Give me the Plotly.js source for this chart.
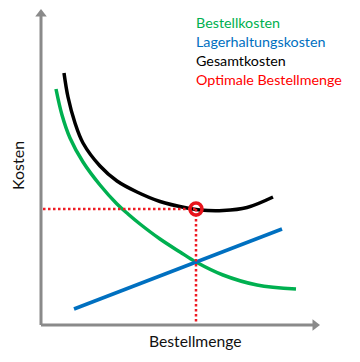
<!DOCTYPE html>
<html>
<head>
<meta charset="utf-8">
<script src="https://cdn.plot.ly/plotly-3.0.1.min.js"></script>
<style>html,body{margin:0;padding:0;background:#fff;}#chart{width:360px;height:362px;}</style>
</head>
<body>
<div id="chart"></div>
<script>
// Bestellkosten (ordering costs)
const bestellX = [15, 21, 29, 42, 59, 76, 87, 99, 119, 139, 155, 182, 216, 255];
const bestellY = [236, 210, 187, 163, 140, 121, 111, 101, 86, 73, 63, 50, 40, 36];
// Lagerhaltungskosten (holding costs)
const lagerX = [33, 241];
const lagerY = [16, 96];
// Gesamtkosten (total costs)
const gesamtX = [23, 27, 34, 42, 59, 76, 96, 119, 146, 159, 182, 206, 232];
const gesamtY = [252, 228, 202, 182, 159, 144, 133, 123.5, 117, 115, 114.5, 117.5, 128];
// Optimale Bestellmenge
const optX = 155;
const optY = 116;
// Axes extents
const axisXMax = 278;
const axisYMax = 315;

const legendLabels = ["Bestellkosten", "Lagerhaltungskosten", "Gesamtkosten", "Optimale Bestellmenge"];
const legendColors = ["#00b050", "#0070c0", "#000000", "#ff0000"];
const xTitle = "Bestellmenge";
const yTitle = "Kosten";

const FONT = "Lato, 'Noto Sans', sans-serif";
const GRAY = "#8a8a8a";

const traces = [
  // axes
  {x: [0, 0], y: [axisYMax - 6, 0], mode: "lines", line: {color: GRAY, width: 3}, hoverinfo: "skip"},
  {x: [0, axisXMax - 6], y: [0, 0], mode: "lines", line: {color: GRAY, width: 3}, hoverinfo: "skip"},
  {x: [0], y: [axisYMax - 4], mode: "markers", marker: {symbol: "triangle-up", size: 10, color: GRAY}, hoverinfo: "skip"},
  {x: [axisXMax - 4], y: [0], mode: "markers", marker: {symbol: "triangle-right", size: 10, color: GRAY}, hoverinfo: "skip"},
  // curves
  {x: bestellX, y: bestellY, mode: "lines", line: {color: "#00b050", width: 3.5, shape: "spline", smoothing: 1}},
  {x: lagerX, y: lagerY, mode: "lines", line: {color: "#0070c0", width: 3.5}},
  {x: gesamtX, y: gesamtY, mode: "lines", line: {color: "#000000", width: 3.5, shape: "spline", smoothing: 1}},
  // dotted guide lines
  {x: [2, optX], y: [optY, optY], mode: "lines", line: {color: "#ee1c24", width: 2.5, dash: "2.5px,2.5px"}},
  {x: [optX, optX], y: [optY, 1], mode: "lines", line: {color: "#ee1c24", width: 2.5, dash: "2.5px,2.5px"}},
  // optimum marker
  {x: [optX], y: [optY], mode: "markers", marker: {symbol: "circle-open", size: 12, color: "#e8141c", line: {color: "#e8141c", width: 3.5}}}
];

const annotations = legendLabels.map((t, i) => ({
  x: 153, y: 303 - i * 19, xref: "x", yref: "y", text: t, showarrow: false,
  xanchor: "left", yanchor: "middle", font: {family: FONT, size: 14.3, color: legendColors[i]}
}));
annotations.push({x: 154, y: -16, xref: "x", yref: "y", text: xTitle, showarrow: false,
  xanchor: "center", yanchor: "middle", font: {family: FONT, size: 15.7, color: "#111"}});
annotations.push({x: -24, y: 159, xref: "x", yref: "y", text: yTitle, showarrow: false, textangle: -90,
  xanchor: "center", yanchor: "middle", font: {family: FONT, size: 16, color: "#111"}});

const layout = {
  width: 360, height: 362,
  margin: {l: 0, r: 0, t: 0, b: 0},
  paper_bgcolor: "#ffffff", plot_bgcolor: "#ffffff",
  showlegend: false,
  xaxis: {range: [-41, 319], visible: false, fixedrange: true},
  yaxis: {range: [-37, 325], visible: false, fixedrange: true},
  annotations: annotations
};

Plotly.newPlot("chart", traces, layout, {staticPlot: true, displayModeBar: false});
</script>
</body>
</html>
